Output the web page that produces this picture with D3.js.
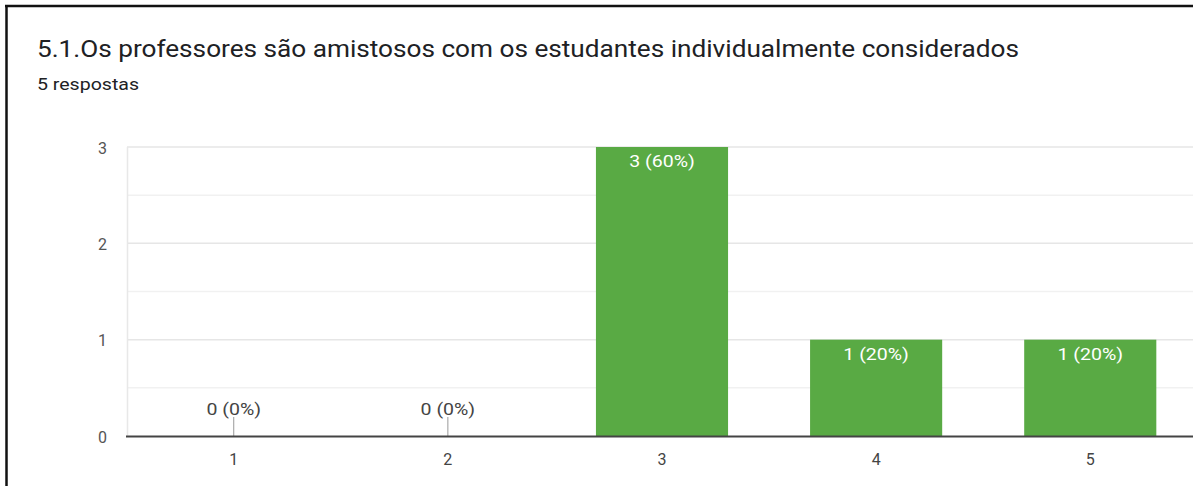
<!DOCTYPE html>
<html><head><meta charset="utf-8">
<script src="https://cdn.jsdelivr.net/npm/d3@7"></script>
<style>
html,body{margin:0;padding:0;background:#fff;}
svg{display:block;font-family:Roboto,Arial,sans-serif;}
</style></head>
<body>
<script>
const categories = ["1","2","3","4","5"];
const counts = [0,0,3,1,1];
const percents = ["0%","0%","60%","20%","20%"];
const yTicks = [0,1,2,3];
const title = "5.1.Os professores são amistosos com os estudantes individualmente considerados";
const subtitle = "5 respostas";

const W = 1193, H = 486;
const svg = d3.select("body").append("svg").attr("width", W).attr("height", H);

function stretch(sel, f){
  sel.each(function(){
    const L = this.getComputedTextLength();
    d3.select(this).attr("textLength", L*f).attr("lengthAdjust","spacingAndGlyphs");
  });
}

// frame (left and top borders)
svg.append("line").attr("x1",5).attr("x2",W).attr("y1",6).attr("y2",6).attr("stroke","#111").attr("stroke-width",2.5);
svg.append("line").attr("x1",6.5).attr("x2",6.5).attr("y1",5).attr("y2",H).attr("stroke","#111").attr("stroke-width",2.5);

svg.append("text").attr("x",37).attr("y",57).attr("font-size",24).attr("fill","#202124")
  .attr("textLength",982).attr("lengthAdjust","spacingAndGlyphs").text(title);
svg.append("text").attr("x",37).attr("y",90).attr("font-size",16).attr("fill","#202124")
  .attr("textLength",102).attr("lengthAdjust","spacingAndGlyphs").text(subtitle);

const x = d3.scaleBand().domain(categories).range([127, 1197]).paddingInner(0.383).paddingOuter(0.19);
const y = d3.scaleLinear().domain([0,3]).range([436, 147]);

// minor gridlines
svg.append("g").selectAll("line").data(d3.range(0.5,3,1)).join("line")
  .attr("x1",127).attr("x2",W).attr("y1",d=>y(d)).attr("y2",d=>y(d))
  .attr("stroke","#f1f1f1").attr("stroke-width",1.5);
// major gridlines
svg.append("g").selectAll("line").data(yTicks.filter(d=>d>0)).join("line")
  .attr("x1",127).attr("x2",W).attr("y1",d=>y(d)).attr("y2",d=>y(d))
  .attr("stroke","#e6e6e6").attr("stroke-width",1.5);
// left vertical grid
svg.append("line").attr("x1",127.5).attr("x2",127.5).attr("y1",y(3)).attr("y2",y(0))
  .attr("stroke","#e8e8e8").attr("stroke-width",1.5);

// y axis labels
const yAxis = d3.axisLeft(y).tickValues(yTicks).tickSize(0).tickPadding(0).tickFormat(d3.format("d"));
const gy = svg.append("g").attr("transform","translate(107,1)").call(yAxis);
gy.select(".domain").remove();
gy.selectAll("text").attr("font-size",16).attr("fill","#555").attr("font-family","Roboto,Arial,sans-serif");

const data = categories.map((c,i)=>({c, v:counts[i], p:percents[i]}));

// bars
svg.append("g").selectAll("rect").data(data.filter(d=>d.v>0)).join("rect")
  .attr("x",d=>x(d.c)).attr("width",x.bandwidth())
  .attr("y",d=>y(d.v)).attr("height",d=>y(0)-y(d.v))
  .attr("fill","#59aa44");

// zero markers
svg.append("g").selectAll("line").data(data.filter(d=>d.v===0)).join("line")
  .attr("x1",d=>x(d.c)+x.bandwidth()/2).attr("x2",d=>x(d.c)+x.bandwidth()/2)
  .attr("y1",y(0)-19).attr("y2",y(0)).attr("stroke","#999").attr("stroke-width",1);

// labels
const labels = svg.append("g").selectAll("text").data(data).join("text")
  .attr("x",d=>x(d.c)+x.bandwidth()/2)
  .attr("y",d=>d.v>0 ? y(d.v)+20 : y(0)-21)
  .attr("text-anchor","middle").attr("font-size",16)
  .attr("fill",d=>d.v>0?"#fff":"#444")
  .text(d=>`${d.v} (${d.p})`);
stretch(labels, 1.22);

// baseline
svg.append("line").attr("x1",126).attr("x2",W).attr("y1",y(0)+0.5).attr("y2",y(0)+0.5)
  .attr("stroke","#444").attr("stroke-width",2);

// x axis labels
const xAxis = d3.axisBottom(x).tickSize(0).tickPadding(0);
const gx = svg.append("g").attr("transform",`translate(0,${y(0)+23})`).call(xAxis);
gx.select(".domain").remove();
gx.selectAll("text").attr("font-size",16).attr("fill","#444").attr("font-family","Roboto,Arial,sans-serif").attr("dy","0.35em");
</script>
</body></html>
